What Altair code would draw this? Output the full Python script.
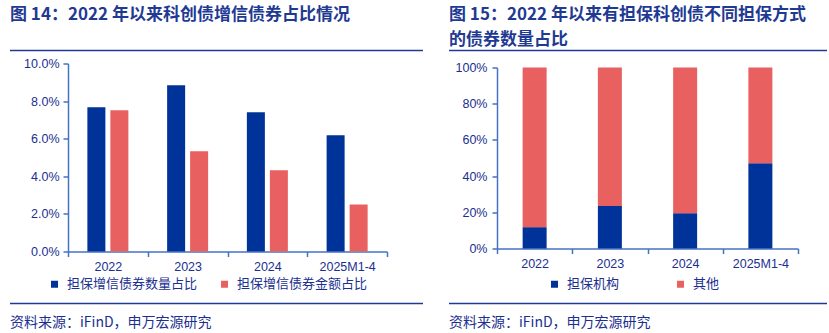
import altair as alt
import pandas as pd

# ---- data ----
years = ["2022", "2023", "2024", "2025M1-4"]
count_share = [7.67, 8.84, 7.41, 6.18]        # 担保增信债券数量占比 (%)
amount_share = [7.51, 5.33, 4.32, 2.50]       # 担保增信债券金额占比 (%)
guarantor_share = [11.8, 23.5, 19.5, 47.1]    # 担保机构 (%)
other_share = [88.2, 76.5, 80.5, 52.9]        # 其他 (%)

left_series = ["担保增信债券数量占比", "担保增信债券金额占比"]
right_series = ["担保机构", "其他"]

BLUE = "#003399"
RED = "#E86060"
TXT = "#1A2F8F"
TITLE = "#1F3A93"
AXIS = "#4472C4"
RULE = "#1F3A93"
CJK = "Noto Sans CJK SC"
LAT = "Liberation Sans"

left_df = pd.DataFrame({
    "year": years * 2,
    "series": [left_series[0]] * 4 + [left_series[1]] * 4,
    "value": count_share + amount_share,
})
right_df = pd.DataFrame({
    "year": years * 2,
    "series": [right_series[0]] * 4 + [right_series[1]] * 4,
    "order": [0] * 4 + [1] * 4,
    "value": guarantor_share + other_share,
})

one = alt.Data(values=[{"k": 0}])


def deco(x0, x1, y_title_lines, y_top_rule, y_bot_rule, y_src, titles):
    layers = []
    for t, yy in zip(titles, y_title_lines):
        layers.append(
            alt.Chart(one).mark_text(
                align="left", baseline="middle", font=CJK, fontSize=17,
                fontWeight="bold", color=TITLE
            ).encode(x=alt.value(x0), y=alt.value(yy), text=alt.value(t))
        )
    for yy in (y_top_rule, y_bot_rule):
        layers.append(
            alt.Chart(one).mark_rule(color=RULE, strokeWidth=1.5).encode(
                x=alt.value(x0), x2=alt.value(x1), y=alt.value(yy)
            )
        )
    layers.append(
        alt.Chart(one).mark_text(
            align="left", baseline="middle", font=CJK, fontSize=14, color=TXT
        ).encode(x=alt.value(x0), y=alt.value(y_src),
                 text=alt.value("资料来源：iFinD，申万宏源研究"))
    )
    return layers


x_axis = alt.Axis(
    title=None, labelAngle=0, tickBand="extent", labelFont=LAT,
    labelFontSize=12.5, labelColor=TXT, domainColor=AXIS, tickColor=AXIS,
    tickSize=5, labelPadding=4, domainWidth=1.5, tickWidth=1.5,
)

# ---- left panel ----
left_bars = alt.Chart(left_df).mark_bar().encode(
    x=alt.X("year:N", sort=years,
            scale=alt.Scale(paddingInner=0, paddingOuter=0), axis=x_axis),
    xOffset=alt.XOffset("series:N", sort=left_series,
                        scale=alt.Scale(paddingInner=0.217, paddingOuter=0.842)),
    y=alt.Y("value:Q", scale=alt.Scale(domain=[0, 10], nice=False),
            axis=alt.Axis(
                title=None, values=[0, 2, 4, 6, 8, 10],
                labelExpr="format(datum.value, '.1f') + '%'",
                labelFont=LAT, labelFontSize=12.5, labelColor=TXT,
                domainColor=AXIS, tickColor=AXIS, tickSize=5, labelPadding=4,
                grid=False, domainWidth=1.5, tickWidth=1.5)),
    color=alt.Color("series:N", sort=left_series,
                    scale=alt.Scale(domain=left_series, range=[BLUE, RED]),
                    legend=alt.Legend(
                        title=None, orient="none", legendX=-20, legendY=214,
                        direction="horizontal", symbolType="square",
                        symbolSize=49, symbolStrokeWidth=0, labelFont=CJK,
                        labelFontSize=13, labelColor=TXT, columnPadding=20,
                        labelOffset=6)),
)

left = alt.layer(
    left_bars,
    *deco(-58, 355, [-48.5], -13, 240, 259,
          ["图 14：2022 年以来科创债增信债券占比情况"]),
).properties(width=319, height=188)

# ---- right panel ----
right_bars = alt.Chart(right_df).mark_bar(size=24).encode(
    x=alt.X("year:N", sort=years,
            scale=alt.Scale(paddingInner=0, paddingOuter=0), axis=x_axis),
    y=alt.Y("value:Q", stack="zero",
            scale=alt.Scale(domain=[0, 100], nice=False, range=[185, 4]),
            axis=alt.Axis(
                title=None, values=[0, 20, 40, 60, 80, 100],
                labelExpr="format(datum.value, '.0f') + '%'",
                labelFont=LAT, labelFontSize=12.5, labelColor=TXT,
                domainColor=AXIS, tickColor=AXIS, tickSize=5, labelPadding=5,
                grid=False, domainWidth=1.5, tickWidth=1.5)),
    order=alt.Order("order:Q"),
    color=alt.Color("series:N", sort=right_series,
                    scale=alt.Scale(domain=right_series, range=[BLUE, RED]),
                    legend=alt.Legend(
                        title=None, orient="none", legendX=51, legendY=214,
                        direction="horizontal", symbolType="square",
                        symbolSize=49, symbolStrokeWidth=0, labelFont=CJK,
                        labelFontSize=13, labelColor=TXT, columnPadding=54,
                        labelOffset=6)),
)

right = alt.layer(
    right_bars,
    *deco(-48, 330, [-48.5, -23.5], -13, 240, 259,
          ["图 15：2022 年以来有担保科创债不同担保方式", "的债券数量占比"]),
).properties(width=301, height=185)

chart = alt.hconcat(left, right, spacing=24).resolve_scale(
    color="independent", x="independent", y="independent"
).resolve_legend(color="independent").configure_view(stroke=None).properties(
    padding={"left": 9, "top": 5.5, "right": 0, "bottom": 0},
    background="white",
)

chart.save("out.html", embed_options={"renderer": "svg", "actions": False})
